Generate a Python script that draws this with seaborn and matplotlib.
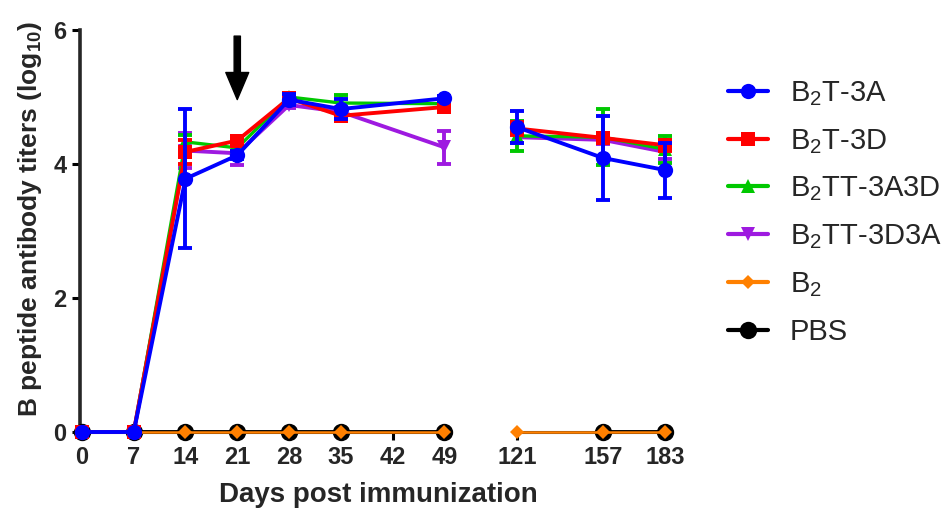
import numpy as np
import pandas as pd
import matplotlib
matplotlib.use('Agg')
import matplotlib.pyplot as plt
from matplotlib.lines import Line2D
import seaborn as sns

# Values (log10 titers, mean and SD)
days = [0, 7, 14, 21, 28, 35, 49, 121, 157, 183]
tick_days = [0, 7, 14, 21, 28, 35, 42, 49, 121, 157, 183]

b2t_3a = [0, 0, 3.78, 4.13, 4.96, 4.82, 4.98, 4.55, 4.09, 3.91]
b2t_3a_sd = [0, 0, 1.04, 0.06, 0.08, 0.15, 0.04, 0.24, 0.63, 0.41]
b2t_3d = [0, 0, 4.18, 4.35, 4.98, 4.72, 4.85, 4.53, 4.39, 4.28]
b2t_3d_sd = [0, 0, 0.18, 0.06, 0.06, 0.06, 0.06, 0.10, 0.08, 0.08]
b2tt_3a3d = [0, 0, 4.33, 4.24, 5.00, 4.91, 4.90, 4.42, 4.40, 4.22]
b2tt_3a3d_sd = [0, 0, 0.10, 0.05, 0.05, 0.12, 0.05, 0.22, 0.42, 0.20]
b2tt_3d3a = [0, 0, 4.20, 4.16, 4.88, 4.78, 4.25, 4.40, 4.36, 4.18]
b2tt_3d3a_sd = [0, 0, 0.26, 0.18, 0.05, 0.05, 0.25, 0.08, 0.06, 0.10]
b2 = [0, 0, 0, 0, 0, 0, 0, 0, 0, 0]
pbs = [0, 0, 0, 0, 0, 0, 0, np.nan, 0, 0]

labels = ['B$_2$T-3A', 'B$_2$T-3D', 'B$_2$TT-3A3D', 'B$_2$TT-3D3A', 'B$_2$', 'PBS']
colors = ['#0000FF', '#FF0000', '#00C800', '#9E1AE0', '#FF8000', '#000000']
markers = ['o', 's', '^', 'v', 'D', 'o']
msizes = [11, 10, 10, 10, 7, 12.5]
lwidths = [2.8, 2.8, 2.4, 2.8, 1.8, 2.8]
series = [b2t_3a, b2t_3d, b2tt_3a3d, b2tt_3d3a, b2, pbs]
sds = [b2t_3a_sd, b2t_3d_sd, b2tt_3a3d_sd, b2tt_3d3a_sd, None, None]

sns.set_style('ticks')
plt.rcParams['font.family'] = ['Liberation Sans', 'DejaVu Sans']
plt.rcParams['mathtext.default'] = 'regular'

fig = plt.figure(figsize=(9.45, 5.22), dpi=100)
y_bot = 90 / 522
y_h = 402 / 522
ax1 = fig.add_axes([80.5 / 945, y_bot, 367.5 / 945, y_h])
ax2 = fig.add_axes([512.2 / 945, y_bot, 157.6 / 945, y_h])

segments = [(ax1, lambda d: d <= 49, (-0.2, 49.5)),
            (ax2, lambda d: d >= 121, (119, 185))]

for ax, keep, xlim in segments:
    mask = [keep(d) for d in days]
    # draw from bottom (PBS) to top (B2T-3A)
    for i in range(len(series) - 1, -1, -1):
        sub = pd.DataFrame({'day': days, 'val': series[i]})[mask].dropna()
        z = 10 - i
        sns.lineplot(data=sub, x='day', y='val', ax=ax, color=colors[i],
                     marker=markers[i], markersize=msizes[i], markeredgewidth=0,
                     linewidth=lwidths[i], zorder=z, clip_on=False, errorbar=None)
        if sds[i] is not None:
            sd = np.array(sds[i])
            m = np.array(mask) & (sd > 0)
            ax.errorbar(np.array(days)[m], np.array(series[i])[m], yerr=sd[m],
                        fmt='none', ecolor=colors[i], elinewidth=2.8,
                        capsize=5, capthick=2.8, zorder=z, clip_on=False)
    ax.set_xlim(*xlim)
    ax.set_ylim(0, 6)
    ax.set_xlabel('')
    ax.set_ylabel('')
    ax.set_xticks([d for d in tick_days if keep(d)])
    ax.tick_params(axis='both', length=6, width=2.2, labelsize=17, pad=4, color='black')
    for lab in ax.get_xticklabels() + ax.get_yticklabels():
        lab.set_fontweight('bold')
    ax.spines['top'].set_visible(False)
    ax.spines['right'].set_visible(False)
    ax.spines['bottom'].set_linewidth(2.2)
    ax.set_facecolor('none')

ax1.spines['left'].set_linewidth(2.6)
ax1.spines['bottom'].set_bounds(0, 49)
ax1.set_yticks([0, 2, 4, 6])
ax1.set_ylabel('B peptide antibody titers (log$_{10}$)', fontsize=19,
               fontweight='bold')
ax1.yaxis.set_label_coords(-0.098, 0.53)
ax2.spines['left'].set_visible(False)
ax2.spines['bottom'].set_bounds(121, 183)
ax2.tick_params(axis='y', left=False, labelleft=False)

# boost arrow at day 21
ax1.annotate('', xy=(21, 4.92), xytext=(21, 5.95),
             arrowprops=dict(arrowstyle='simple,head_length=1.3,head_width=1.1,tail_width=0.3',
                             color='black', mutation_scale=15))

fig.text(378 / 945, 1 - 495 / 522, 'Days post immunization', fontsize=20,
         fontweight='bold', ha='center', va='center')

handles = [Line2D([], [], color=c, marker=mk, markersize=ms, markeredgewidth=0, linewidth=3)
           for c, mk, ms in zip(colors, markers, msizes)]
fig.legend(handles, labels, loc='upper left', bbox_to_anchor=(728 / 945, 1 - 79 / 522),
           frameon=False, fontsize=21, handlelength=1.37, handletextpad=0.75,
           labelspacing=0.65, borderpad=0, borderaxespad=0)

fig.savefig('out.png', dpi=100)
